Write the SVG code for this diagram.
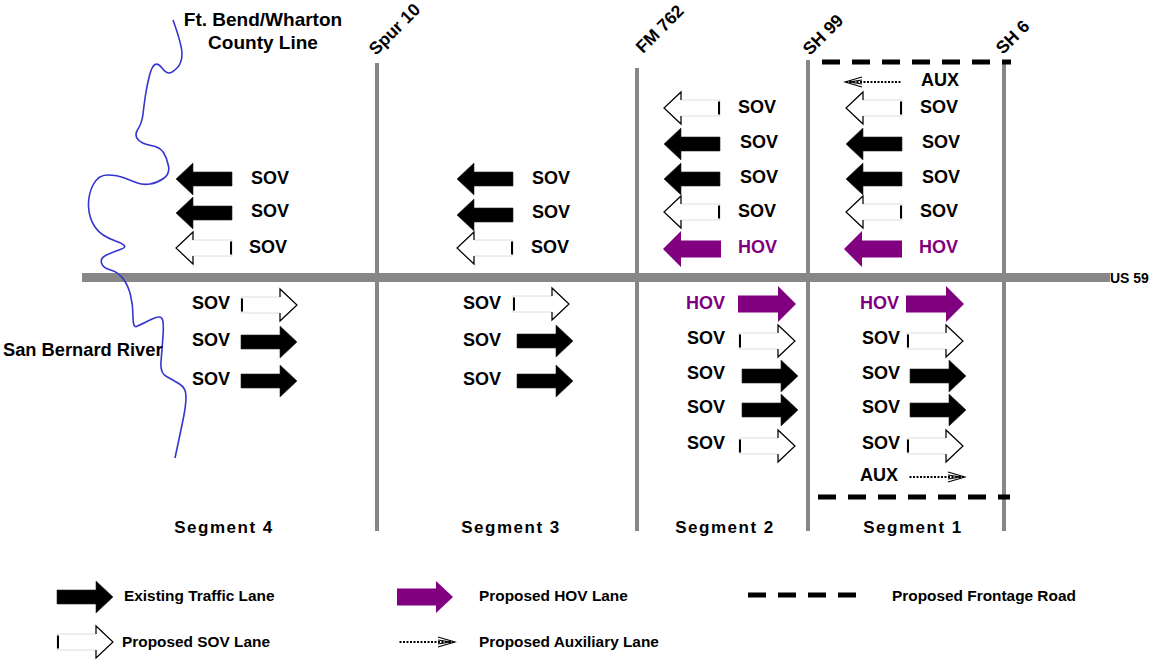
<svg xmlns="http://www.w3.org/2000/svg" xmlns:xlink="http://www.w3.org/1999/xlink" width="1156" height="659" viewBox="0 0 1156 659">
<style>
.t{font-family:"Liberation Sans",Arial,sans-serif;font-weight:bold;font-size:18px;fill:#000}
.h{fill:#800080}
.seg{font-size:17px;letter-spacing:1.5px;text-anchor:middle}
.rot{font-size:17.5px}
.leg{font-size:15.4px}
.road{stroke:#878787;stroke-width:4;fill:none}
.front{stroke:#000;stroke-width:5;stroke-dasharray:18 12;fill:none}
.aux{stroke:#000;stroke-width:2;stroke-dasharray:2 1.5;fill:none}
.river{stroke:#3535cf;stroke-width:1.6;fill:none}
</style>
<defs>
<polygon id="bL" points="0,0 17,-16 17,-7 56,-7 56,7 17,7 17,16" fill="#000" stroke="#222" stroke-width="0.6"/>
<polygon id="bR" points="0,0 -17,-16 -17,-7 -56,-7 -56,7 -17,7 -17,16" fill="#000" stroke="#222" stroke-width="0.6"/>
<g id="wL"><polygon points="0,0 17,-16 17,-8 56,-8 56,8 17,8 17,16" fill="#fff" stroke="#dcdcdc" stroke-width="1"/><path d="M17,-8V-16L0,0L17,16V8" fill="none" stroke="#000" stroke-width="1.2"/><line x1="55" y1="-6.5" x2="55" y2="6.5" stroke="#000" stroke-width="2"/></g>
<g id="wR"><polygon points="0,0 -17,-16 -17,-8 -56,-8 -56,8 -17,8 -17,16" fill="#fff" stroke="#dcdcdc" stroke-width="1"/><path d="M-17,-8V-16L0,0L-17,16V8" fill="none" stroke="#000" stroke-width="1.2"/><line x1="-55" y1="-6.5" x2="-55" y2="6.5" stroke="#000" stroke-width="2"/></g>
<polygon id="pL" points="0,0 18,-18 18,-8.5 58,-8.5 58,8.5 18,8.5 18,18" fill="#800080"/>
<polygon id="pR" points="0,0 -18,-18 -18,-8.5 -58,-8.5 -58,8.5 -18,8.5 -18,18" fill="#800080"/>
<g id="aL"><line x1="1" y1="0" x2="57" y2="0" class="aux"/><path d="M17,-5L0,0L17,5M17,-2L4,0L17,2" fill="none" stroke="#000" stroke-width="1.1"/></g>
<g id="aR"><line x1="-1" y1="0" x2="-57" y2="0" class="aux"/><path d="M-17,-5L0,0L-17,5M-17,-2L-4,0L-17,2" fill="none" stroke="#000" stroke-width="1.1"/></g>
</defs>
<rect width="1156" height="659" fill="#fff"/>

<g id="roads">
<line class="road" x1="377" y1="63" x2="377" y2="531"/>
<line class="road" x1="637" y1="68" x2="637" y2="531"/>
<line class="road" x1="808" y1="60" x2="808" y2="531"/>
<line class="road" x1="1004" y1="63" x2="1004" y2="531"/>
<line x1="82" y1="277.5" x2="1110" y2="277.5" stroke="#878787" stroke-width="9"/>
<text class="t" x="1110" y="283" style="font-size:14px">US 59</text>
</g>

<g id="frontage">
<line class="front" x1="822" y1="62" x2="1011" y2="62"/>
<line class="front" x1="818" y1="497" x2="1010" y2="497"/>
</g>

<g id="cross-labels">
<text class="t rot" transform="translate(376,56) rotate(-45)">Spur 10</text>
<text class="t rot" transform="translate(643,54) rotate(-45)">FM 762</text>
<text class="t rot" transform="translate(810,56) rotate(-45)">SH 99</text>
<text class="t rot" transform="translate(1003,55) rotate(-45)">SH 6</text>
</g>

<g id="river">
<path class="river" d="M173,20 Q182,45 182,54 Q182,63 177,68 Q172,73 169,73 Q166,73 162,68 Q158,63 155,64.5 Q152,66 149.5,75.5 Q147,85 145.5,95 Q144,105 143,114 Q142,123 138,129 Q134,135 138,139.5 Q142,144 151,145.5 Q160,147 163.5,152.5 Q167,158 168.5,166 Q170,174 163.5,178.5 Q157,183 150,184 Q143,185 137.5,183 Q132,181 124.5,178 Q117,175 107.5,175 Q98,175 93,185 Q88,195 88.5,206.5 Q89,218 95,227 Q101,236 115.5,241 Q130,246 121.5,249 Q113,252 106.5,255 Q100,258 101.5,263 Q103,268 110.5,270 Q118,272 123,278.5 Q128,285 130.5,295 Q133,305 133,316.5 Q133,328 136.5,326.5 Q140,325 150,320 Q160,315 162,318.5 Q164,322 163,336 Q162,350 161,361.5 Q160,373 166.5,376.5 Q173,380 179.5,384 Q186,388 186,396.5 Q186,405 183.5,417.5 Q181,430 175,458"/>
<text class="t" x="263" y="26" text-anchor="middle" style="font-size:19px">Ft. Bend/Wharton</text>
<text class="t" x="263" y="49" text-anchor="middle" style="font-size:19px">County Line</text>
<text class="t" x="3" y="356" style="font-size:18.3px">San Bernard River</text>
</g>

<g id="segment4">
<use xlink:href="#bL" x="176" y="179"/><text class="t" x="251" y="184">SOV</text>
<use xlink:href="#bL" x="176" y="213"/><text class="t" x="251" y="217">SOV</text>
<use xlink:href="#wL" x="176" y="248"/><text class="t" x="249" y="253">SOV</text>
<use xlink:href="#wR" x="297" y="305"/><text class="t" x="192" y="309">SOV</text>
<use xlink:href="#bR" x="297" y="342"/><text class="t" x="192" y="346">SOV</text>
<use xlink:href="#bR" x="297" y="381"/><text class="t" x="192" y="385">SOV</text>
<text class="t seg" x="224" y="533">Segment 4</text>
</g>

<g id="segment3">
<use xlink:href="#bL" x="457" y="179"/><text class="t" x="532" y="184">SOV</text>
<use xlink:href="#bL" x="457" y="215"/><text class="t" x="532" y="218">SOV</text>
<use xlink:href="#wL" x="457" y="248"/><text class="t" x="531" y="253">SOV</text>
<use xlink:href="#wR" x="569" y="304"/><text class="t" x="463" y="309">SOV</text>
<use xlink:href="#bR" x="573" y="341"/><text class="t" x="463" y="346">SOV</text>
<use xlink:href="#bR" x="573" y="381"/><text class="t" x="463" y="385">SOV</text>
<text class="t seg" x="511" y="533">Segment 3</text>
</g>

<g id="segment2">
<use xlink:href="#wL" x="664" y="108"/><text class="t" x="738" y="113">SOV</text>
<use xlink:href="#bL" x="664" y="144"/><text class="t" x="740" y="148">SOV</text>
<use xlink:href="#bL" x="664" y="179"/><text class="t" x="740" y="183">SOV</text>
<use xlink:href="#wL" x="664" y="212"/><text class="t" x="738" y="217">SOV</text>
<use xlink:href="#pL" x="663" y="249"/><text class="t h" x="738" y="253">HOV</text>
<use xlink:href="#pR" x="796" y="304"/><text class="t h" x="686" y="309">HOV</text>
<use xlink:href="#wR" x="795" y="341"/><text class="t" x="687" y="344">SOV</text>
<use xlink:href="#bR" x="798" y="376"/><text class="t" x="687" y="379">SOV</text>
<use xlink:href="#bR" x="798" y="410"/><text class="t" x="687" y="413">SOV</text>
<use xlink:href="#wR" x="795" y="446"/><text class="t" x="687" y="449">SOV</text>
<text class="t seg" x="725" y="533">Segment 2</text>
</g>

<g id="segment1">
<use xlink:href="#aL" x="845" y="82"/><text class="t" x="921" y="86">AUX</text>
<use xlink:href="#wL" x="846" y="108"/><text class="t" x="920" y="113">SOV</text>
<use xlink:href="#bL" x="846" y="144"/><text class="t" x="922" y="148">SOV</text>
<use xlink:href="#bL" x="846" y="179"/><text class="t" x="922" y="183">SOV</text>
<use xlink:href="#wL" x="846" y="212"/><text class="t" x="920" y="217">SOV</text>
<use xlink:href="#pL" x="844" y="249"/><text class="t h" x="919" y="253">HOV</text>
<use xlink:href="#pR" x="964" y="304"/><text class="t h" x="860" y="309">HOV</text>
<use xlink:href="#wR" x="963" y="341"/><text class="t" x="862" y="344">SOV</text>
<use xlink:href="#bR" x="966" y="376"/><text class="t" x="862" y="379">SOV</text>
<use xlink:href="#bR" x="966" y="410"/><text class="t" x="862" y="413">SOV</text>
<use xlink:href="#wR" x="963" y="446"/><text class="t" x="862" y="449">SOV</text>
<use xlink:href="#aR" x="965" y="477"/><text class="t" x="860" y="481">AUX</text>
<text class="t seg" x="913" y="533">Segment 1</text>
</g>

<g id="legend">
<use xlink:href="#bR" x="113" y="597"/><text class="t leg" x="124" y="601">Existing Traffic Lane</text>
<use xlink:href="#wR" x="113" y="642"/><text class="t leg" x="122" y="647">Proposed SOV Lane</text>
<polygon points="453,597 436,581 436,588.5 397,588.5 397,605.5 436,605.5 436,613" fill="#800080"/><text class="t leg" x="479" y="601">Proposed HOV Lane</text>
<use xlink:href="#aR" x="455" y="642"/><text class="t leg" x="479" y="647">Proposed Auxiliary Lane</text>
<line class="front" x1="748" y1="595" x2="858" y2="595"/><text class="t leg" x="892" y="601">Proposed Frontage Road</text>
</g>
</svg>
